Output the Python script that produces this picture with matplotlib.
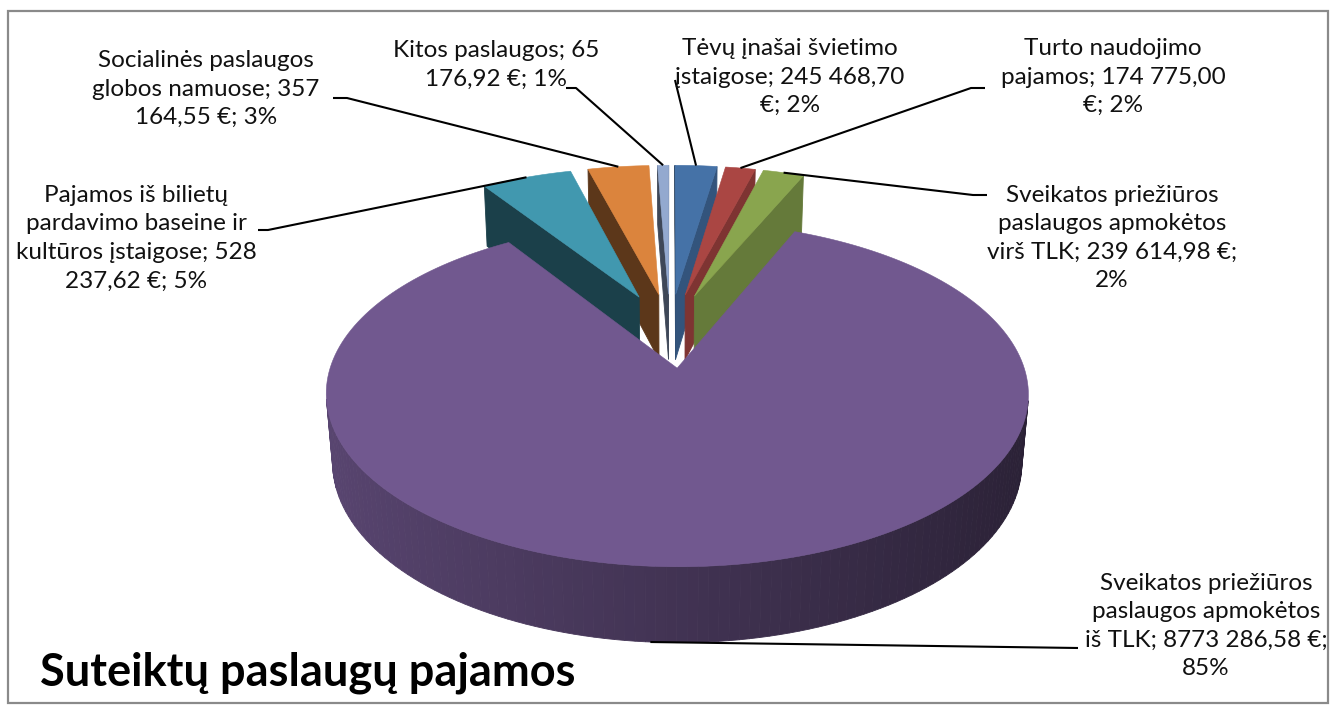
import numpy as np
import matplotlib.pyplot as plt
from matplotlib.patches import Polygon, Rectangle

# duomenys (pagal grafiką)
names = ["Tėvų įnašai švietimo įstaigose",
         "Turto naudojimo pajamos",
         "Sveikatos priežiūros paslaugos apmokėtos virš TLK",
         "Sveikatos priežiūros paslaugos apmokėtos iš TLK",
         "Pajamos iš bilietų pardavimo baseine ir kultūros įstaigose",
         "Socialinės paslaugos globos namuose",
         "Kitos paslaugos"]
values = [245468.70, 174775.00, 239614.98, 8773286.58, 528237.62, 357164.55, 65176.92]
label_texts = ["Tėvų įnašai švietimo\nįstaigose; 245 468,70\n€; 2%",
               "Turto naudojimo\npajamos; 174 775,00\n€; 2%",
               "Sveikatos priežiūros\npaslaugos apmokėtos\nvirš TLK; 239 614,98 €;\n2%",
               "Sveikatos priežiūros\npaslaugos apmokėtos\niš TLK; 8773 286,58 €;\n85%",
               "Pajamos iš bilietų\npardavimo baseine ir\nkultūros įstaigose; 528\n237,62 €; 5%",
               "Socialinės paslaugos\nglobos namuose; 357\n164,55 €; 3%",
               "Kitos paslaugos; 65\n176,92 €; 1%"]
colors = ['#4572A7', '#AA4643', '#89A54E', '#71588F', '#4198AF', '#DB843D', '#93A9CF']
title = "Suteiktų paslaugų pajamos"

# etikečių vietos ir linijų pradžios (pikseliais)
label_pos = [(790, 77), (1113, 77), (1112, 238), (1206, 626), (136, 238), (206, 89), (496, 65)]
leader_start = [[(675, 80)],
                [(985, 88), (971, 88)],
                [(987, 195), (973, 195)],
                [(1078, 648)],
                [(258, 230), (268, 230)],
                [(333, 98), (347, 98)],
                [(566, 88), (576, 88)]]

# 3D pyrago parametrai
PHI = np.radians(28.0)
DIST = 6.07
F = 2035.0
CX, CY = 670.0, 330.0
EXPL = 0.235
H = 0.229

cam = np.array([0.0, -DIST * np.cos(PHI), DIST * np.sin(PHI)])


def proj(X, Y, Z):
    u = Y * np.sin(PHI) + Z * np.cos(PHI)
    d = DIST + Y * np.cos(PHI) - Z * np.sin(PHI)
    return CX + F * X / d, CY - F * u / d


def shade(c, f):
    rgb = np.array(plt.matplotlib.colors.to_rgb(c))
    return tuple(np.clip(rgb * f, 0, 1))


def face(pts3, col, faces):
    pts3 = np.array(pts3)
    c = pts3.mean(axis=0)
    dist = np.linalg.norm(cam - c)
    x, y = proj(pts3[:, 0], pts3[:, 1], pts3[:, 2])
    faces.append((dist, np.column_stack([x, y]), col))


fig = plt.figure(figsize=(13.33, 7.08), dpi=100)
ax = fig.add_axes([0, 0, 1, 1])
ax.set_xlim(0, 1333)
ax.set_ylim(708, 0)
ax.axis('off')

total = sum(values)
bounds = np.concatenate([[0], np.cumsum(values) / total * 360.0])
side_faces = []
top_faces = []
anchors = []

for i, v in enumerate(values):
    a0, a1 = bounds[i], bounds[i + 1]
    am = np.radians((a0 + a1) / 2)
    ox, oy = EXPL * np.sin(am), EXPL * np.cos(am)
    n = max(3, int((a1 - a0) / 1.5) + 2)
    arc = np.radians(np.linspace(a0, a1, n))
    rx, ry = ox + np.sin(arc), oy + np.cos(arc)

    # išorinė sienelė
    for k in range(n - 1):
        t = (arc[k] + arc[k + 1]) / 2
        nrm = np.array([np.sin(t), np.cos(t), 0.0])
        quad = [(rx[k], ry[k], 0), (rx[k + 1], ry[k + 1], 0),
                (rx[k + 1], ry[k + 1], -H), (rx[k], ry[k], -H)]
        cen = np.array(quad).mean(axis=0)
        if np.dot(nrm, cam - cen) > 0:
            face(quad, shade(colors[i], 0.58 - 0.21 * np.sin(t)), side_faces)

    # pjūvio sienelės
    for a, nrm in [(arc[0], np.array([-np.cos(arc[0]), np.sin(arc[0]), 0.0])),
                   (arc[-1], np.array([np.cos(arc[-1]), -np.sin(arc[-1]), 0.0]))]:
        quad = [(ox, oy, 0), (ox + np.sin(a), oy + np.cos(a), 0),
                (ox + np.sin(a), oy + np.cos(a), -H), (ox, oy, -H)]
        cen = np.array(quad).mean(axis=0)
        if np.dot(nrm, cam - cen) > 0:
            f = 0.74 if nrm[0] > 0 else 0.42
            face(quad, shade(colors[i], f), side_faces)

    # viršus
    top = [(ox, oy, 0)] + [(x, y, 0) for x, y in zip(rx, ry)]
    face(top, colors[i], top_faces)

    # linijos galas
    if (a1 - a0) > 180:
        t = np.radians(184)
        anchors.append(proj(ox + np.sin(t), oy + np.cos(t), -H))
    else:
        anchors.append(proj(ox + np.sin(am), oy + np.cos(am), 0))

for dist, xy, col in sorted(side_faces, key=lambda f: -f[0]):
    ax.add_patch(Polygon(xy, closed=True, facecolor=col, edgecolor=col, lw=0.6))
for dist, xy, col in sorted(top_faces, key=lambda f: -f[0]):
    ax.add_patch(Polygon(xy, closed=True, facecolor=col, edgecolor=col, lw=0.4))

# etiketės
font = ['Lato', 'DejaVu Sans']
for i, txt in enumerate(label_texts):
    x, y = label_pos[i]
    ax.text(x, y, txt, ha='center', va='center', multialignment='center',
            fontsize=17.5, family=font, color='#111111', linespacing=1.45)
    pts = leader_start[i] + [anchors[i]]
    ax.plot([p[0] for p in pts], [p[1] for p in pts], color='black', lw=1.5,
            solid_capstyle='butt')

ax.text(40, 686, title, ha='left', va='baseline', fontsize=32.5, fontweight='bold',
        family=font, color='black')

ax.add_patch(Rectangle((8, 11), 1320, 692, fill=False, edgecolor='#8a8a8a', lw=1.6))

fig.savefig('out.png', dpi=100)
